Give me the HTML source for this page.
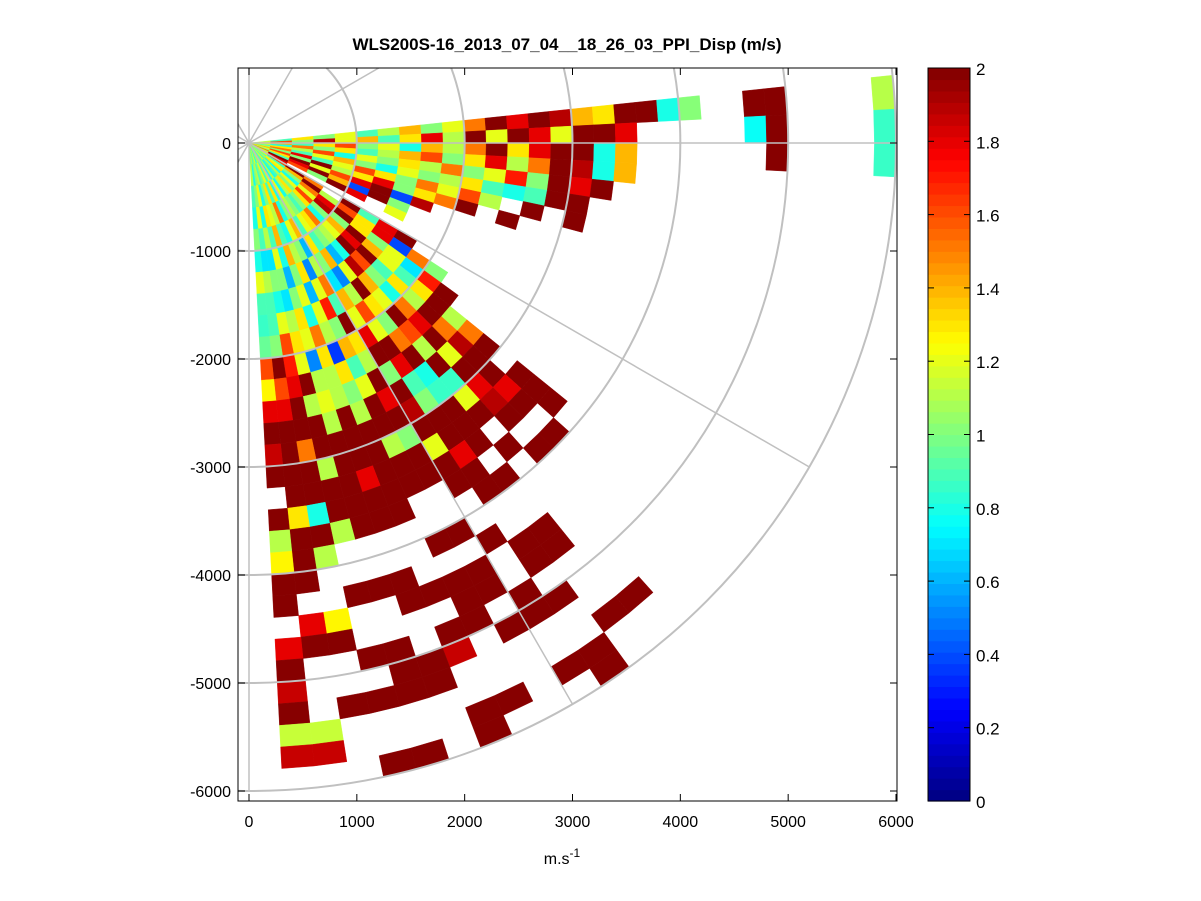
<!DOCTYPE html>
<html><head><meta charset="utf-8">
<style>
html,body{margin:0;padding:0;background:#fff;}
svg{display:block;font-family:"Liberation Sans",Arial,sans-serif;}
</style></head>
<body>
<svg id="chart" width="1201" height="901" viewBox="0 0 1201 901">
<defs><clipPath id="plotclip"><rect x="238" y="68" width="659" height="733"/></clipPath></defs>
<rect x="0" y="0" width="1201" height="901" fill="#fff"/>
<text x="567" y="50" text-anchor="middle" font-size="17" font-weight="bold">WLS200S-16_2013_07_04__18_26_03_PPI_Disp (m/s)</text>
<rect x="238" y="68" width="659" height="733" fill="#fff"/>
<g id="cells" clip-path="url(#plotclip)"></g>
<g id="grid" clip-path="url(#plotclip)"></g>
<g id="axes"></g>
<text x="562" y="864" text-anchor="middle" font-size="16">m.s<tspan dy="-7" font-size="12">-1</tspan></text>
<g id="cbar"></g>
</svg>
<script>
const _ = null;
// beam centre azimuths (deg, counter-clockwise from east)
const beamAzimuths = [4.5,1.5,-1.5,-4.5,-7.5,-10.5,-13.5,-16.5,-19.5,-22.5,-25.5,-28.5,-31.5,-34.5,-37.5,-40.5,-43.5,-46.5,-49.5,-52.5,-55.5,-58.5,-61.5,-64.5,-67.5,-70.5,-73.5,-76.5,-79.5,-82.5,-85.5];
const beamWidthDeg = 3;
const gateLength = 200;
// dispersion values (m/s) per beam, per 200 m range gate
const dispValues = [
[1.1,0.9,1.3,1.0,1.2,0.9,1.1,1.4,1.0,1.2,1.5,2,1.8,2,1.9,1.4,1.3,2,2,0.8,1.0,_,_,2,2,_,_,_,_,1.1],
[1.3,1.6,1.0,1.9,1.2,1.4,0.9,1.3,1.8,1.1,2,1.2,2,1.8,1.2,2,2,1.8,_,_,_,_,_,0.75,2,_,_,_,_,0.85],
[1.0,1.4,0.9,1.3,1.6,1.0,1.2,0.8,1.4,1.1,1.5,2,1.3,1.8,2,2,0.8,1.4,_,_,_,_,_,_,2,_,_,_,_,0.85],
[1.2,0.8,1.5,1.0,1.3,0.9,1.1,1.4,1.6,1.0,1.3,1.8,1.1,1.5,2,1.9,0.8,1.4,_,_,_,_,_,_,_,_,_,_,_,_],
[0.9,1.3,1.1,1.6,0.8,1.2,1.0,1.3,1.1,1.5,1.0,1.2,1.7,1.0,2,1.8,2,_,_,_,_,_,_,_,_,_,_,_,_,_],
[1.1,1.5,0.9,1.2,1.4,1.0,0.8,1.2,1.0,1.1,1.3,0.9,0.8,0.9,2,2,_,_,_,_,_,_,_,_,_,_,_,_,_,_],
[1.4,1.0,1.8,0.9,1.2,1.6,1.3,1.0,1.5,1.2,1.6,1.1,_,2,_,2,_,_,_,_,_,_,_,_,_,_,_,_,_,_],
[1.2,1.6,1.0,2,1.1,1.3,1.8,1.0,1.3,1.5,2,_,2,_,_,_,_,_,_,_,_,_,_,_,_,_,_,_,_,_],
[1.0,1.3,2,1.2,1.6,1.8,2,0.4,1.9,_,_,_,_,_,_,_,_,_,_,_,_,_,_,_,_,_,_,_,_,_],
[1.5,0.9,1.8,2,1.4,0.4,2,1.0,_,_,_,_,_,_,_,_,_,_,_,_,_,_,_,_,_,_,_,_,_,_],
[1.1,2,1.6,1.0,2,1.8,_,1.2,_,_,_,_,_,_,_,_,_,_,_,_,_,_,_,_,_,_,_,_,_,_],
[1.3,1.8,_,_,_,_,_,_,_,_,_,_,_,_,_,_,_,_,_,_,_,_,_,_,_,_,_,_,_,_],
[1.0,1.6,2,1.5,_,2,0.9,1.8,2,_,_,_,_,_,_,_,_,_,_,_,_,_,_,_,_,_,_,_,_,_],
[1.2,0.9,1.4,2,1.1,1.6,1.3,1.8,0.4,1.5,1.0,_,_,_,_,_,_,_,_,_,_,_,_,_,_,_,_,_,_,_],
[0.9,1.2,1.0,1.5,1.8,2,1.3,1.0,1.2,0.7,1.7,2,_,_,_,_,_,_,_,_,_,_,_,_,_,_,_,_,_,_],
[1.1,1.3,0.8,1.2,1.9,1.0,2,1.4,1.2,0.9,1.3,2,1.1,1.5,2,_,2,2,2,_,_,_,_,_,_,_,_,_,_,_],
[1.0,0.8,1.2,1.6,1.0,1.4,1.8,2,0.9,1.3,1.1,2,1.5,1.9,2,2,1.8,2,_,2,_,_,_,_,_,_,_,_,_,_],
[0.9,1.1,1.0,1.3,0.8,1.2,2,1.6,1.0,0.8,1.5,1.8,2,1.2,2,1.8,1.9,2,_,2,_,_,_,_,_,_,_,_,_,_],
[1.2,0.9,1.3,1.0,1.5,1.1,0.8,1.9,1.4,1.2,2,1.6,1.1,2,0.85,1.2,2,_,2,_,_,_,_,_,_,_,_,2,_,_],
[1.0,0.8,1.1,0.9,1.3,1.0,0.6,1.2,2,1.3,1.0,1.5,2,0.8,0.85,2,2,2,_,2,_,_,2,2,_,_,_,2,_,_],
[0.9,1.1,0.8,1.0,1.2,0.9,1.4,0.5,1.1,1.6,1.2,2,1.8,0.9,1.0,2,2,1.8,2,2,_,_,2,2,_,2,_,_,2,2],
[1.0,0.8,1.2,1.1,0.9,1.3,1.0,0.7,1.4,1.2,1.8,2,1.0,2,1.9,2,1.2,2,2,_,_,2,_,_,2,2,_,_,2,_],
[0.9,1.2,0.8,1.0,1.4,0.6,1.1,1.5,0.9,2,1.3,1.1,2,1.8,2,1.0,2,2,_,_,2,_,2,2,_,2,_,_,_,_],
[1.1,0.9,1.3,0.8,1.2,1.0,0.5,1.2,1.7,1.0,1.4,0.9,1.2,2,2,1.1,2,2,_,_,2,_,2,2,2,_,_,_,2,_],
[1.0,1.2,0.9,1.5,0.8,1.1,1.3,0.6,1.2,1.1,0.35,1.3,1.0,1.1,2,2,2,2,2,_,_,_,2,_,2,1.85,_,_,2,2],
[0.8,1.0,1.3,1.1,0.9,1.4,1.0,1.2,0.8,1.5,1.3,1.1,1.1,2,2,2,1.8,2,2,_,_,2,2,_,_,2,2,_,_,_],
[1.2,0.9,1.0,1.2,1.4,0.8,0.6,1.0,1.3,1.2,0.5,1.1,1.2,1.1,2,2,2,2,2,_,_,2,_,_,2,2,2,_,_,2],
[1.0,1.1,0.8,1.3,0.9,1.2,1.0,0.7,1.1,1.3,1.2,2,1.1,2,2,1.1,2,2,1.1,_,_,2,_,_,2,_,2,_,_,2],
[0.9,1.0,1.2,0.8,1.1,0.7,1.0,0.8,1.2,1.6,1.7,1.8,2,2,1.5,2,2,0.8,2,1.1,_,_,1.25,2,_,_,2,_,_,_],
[1.1,0.8,1.0,1.2,0.9,0.7,1.1,0.9,0.9,1.0,2,1.6,1.8,2,2,2,2,1.3,2,2,2,_,1.8,2,_,_,_,1.15,1.85,_],
[1.0,1.1,0.9,0.8,1.0,0.8,1.2,0.9,0.85,0.95,1.6,1.25,1.8,2,1.85,2,_,2,1.1,1.25,2,2,_,1.8,2,1.85,2,1.15,1.85,_]
];
const xTicks = [0,1000,2000,3000,4000,5000,6000];
const yTicks = [0,-1000,-2000,-3000,-4000,-5000,-6000];
const cbarTicks = [0,0.2,0.4,0.6,0.8,1,1.2,1.4,1.6,1.8,2];
const gridRadii = [1000,2000,3000,4000,5000,6000];
const gridAngles = [0,30,60,90,120,150,180,210,240,270,300,330];

const NS='http://www.w3.org/2000/svg';
const X0=249, Y0=143, K=647/6000, KY=648/6000;
const sx=v=>X0+v*K, sy=v=>Y0-v*KY;
const cMin=0,cMax=2;
function jet(t){
  t=Math.max(0,Math.min(1,t));
  const i=Math.min(63,Math.floor(t*64)); t=(i+0.5)/64;
  const f=x=>Math.max(0,Math.min(1,x));
  const r=f(1.5-Math.abs(4*t-3)), g=f(1.5-Math.abs(4*t-2)), b=f(1.5-Math.abs(4*t-1));
  return 'rgb('+Math.round(r*255)+','+Math.round(g*255)+','+Math.round(b*255)+')';
}
const colorOf=v=>jet((v-cMin)/(cMax-cMin));
function mk(tag,attrs,parent){const e=document.createElementNS(NS,tag);for(const k in attrs)e.setAttribute(k,attrs[k]);parent.appendChild(e);return e;}
function pt(r,a){const t=a*Math.PI/180;return [sx(r*Math.cos(t)),sy(r*Math.sin(t))];}

const cells=document.getElementById('cells');
beamAzimuths.forEach((az,bi)=>{
  const a1=az-beamWidthDeg/2,a2=az+beamWidthDeg/2;
  dispValues[bi].forEach((v,gi)=>{
    if(v===null)return;
    const r1=gi*gateLength,r2=(gi+1)*gateLength;
    const p=[pt(r1,a1),pt(r2,a1),pt(r2,a2),pt(r1,a2)];
    const e=mk('polygon',{points:p.map(q=>q[0].toFixed(2)+','+q[1].toFixed(2)).join(' '),fill:colorOf(v),stroke:colorOf(v),'stroke-width':0.4},cells);
    
    
  });
});

const grid=document.getElementById('grid');
gridRadii.forEach(r=>{
  const e=mk('ellipse',{cx:X0,cy:Y0,rx:r*K,ry:r*KY,fill:'none',stroke:'#c0c0c0','stroke-width':2},grid);
  
  
});
gridAngles.forEach(a=>{
  const p=pt(6000,a);
  const e=mk('line',{x1:X0,y1:Y0,x2:p[0],y2:p[1],stroke:'#c0c0c0','stroke-width':1.5},grid);
  
  
});

const axes=document.getElementById('axes');
const fr=mk('rect',{x:238,y:68,width:659,height:733,fill:'none',stroke:'#000','stroke-width':1},axes);


xTicks.forEach(v=>{
  const x=sx(v);
  mk('line',{x1:x,y1:801,x2:x,y2:794,stroke:'#000'},axes);
  mk('line',{x1:x,y1:68,x2:x,y2:75,stroke:'#000'},axes);
  const t=mk('text',{x:x,y:827,'text-anchor':'middle','font-size':16},axes);
  t.textContent=v;
  
  
});
yTicks.forEach(v=>{
  const y=sy(v);
  mk('line',{x1:238,y1:y,x2:245,y2:y,stroke:'#000'},axes);
  mk('line',{x1:897,y1:y,x2:890,y2:y,stroke:'#000'},axes);
  const t=mk('text',{x:231,y:y+6,'text-anchor':'end','font-size':16},axes);
  t.textContent=v;
  
  
});

const cb=document.getElementById('cbar');
const CX=928,CW=42,CT=68,CB=801;
const cy=v=>CB-(v-cMin)/(cMax-cMin)*(CB-CT);
for(let i=0;i<64;i++){
  const y1=CB-(i+1)*(CB-CT)/64,h=(CB-CT)/64;
  const e=mk('rect',{x:CX,y:y1,width:CW,height:h+0.6,fill:jet((i+0.5)/64)},cb);
  
  
}
mk('rect',{x:CX,y:CT,width:CW,height:CB-CT,fill:'none',stroke:'#000'},cb);
cbarTicks.forEach(v=>{
  const y=cy(v);
  mk('line',{x1:CX,y1:y,x2:CX+6,y2:y,stroke:'#000'},cb);
  mk('line',{x1:CX+CW,y1:y,x2:CX+CW-6,y2:y,stroke:'#000'},cb);
  const t=mk('text',{x:976,y:y+7,'font-size':17},cb);
  t.textContent=String(v);
  
  
});
</script>
</body></html>
